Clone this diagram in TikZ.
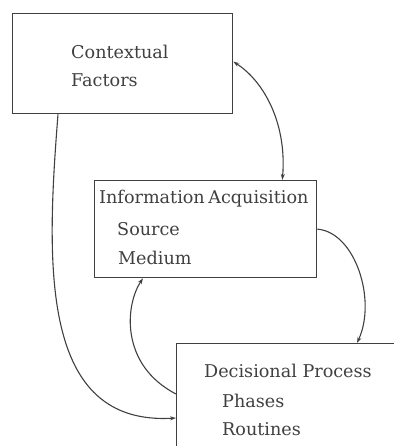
\documentclass[tikz,border=0pt]{standalone}
\usepackage{fontspec}
\setmainfont{DejaVu Serif}
\usetikzlibrary{arrows.meta}
\begin{document}
\begin{tikzpicture}[x=1pt,y=1pt,
  box/.style={draw=black!75, line width=1.3pt, anchor=north west, inner sep=0pt},
  lbl/.style={anchor=base west, inner sep=0pt, text=black!75, font=\fontsize{17.6}{20}\selectfont},
  conn/.style={draw=black!75, line width=1.1pt},
  tip/.style={-{Stealth[length=6pt,width=4pt]}},
  tips/.style={{Stealth[length=6pt,width=4pt]}-{Stealth[length=6pt,width=4pt]}}]
\useasboundingbox (0,0) rectangle (393,446);
\fill[white] (0,0) rectangle (393,446);
\node[box, minimum width=220pt, minimum height=100pt] (box1) at (12,433) {};
\node[box, minimum width=222pt, minimum height=97pt] (box2) at (94,266) {};
\node[box, minimum width=240pt, minimum height=120pt] (box3) at (176,103) {};
\node[lbl] (t1) at (71,387) {Contextual};
\node[lbl] (t2) at (71,359) {Factors};
\node[lbl] (t3) at (99,242) {Information\hspace{-2pt} Acquisition};
\node[lbl] (t4) at (117,210) {Source};
\node[lbl] (t5) at (118,181) {Medium};
\node[lbl] (t6) at (204,68) {Decisional Process};
\node[lbl] (t7) at (222,38) {Phases};
\node[lbl] (t8) at (222,10) {Routines};
% connectors
\draw[conn,tips] ([yshift=2pt]box1.east) .. controls (265,364) and (287,321) .. ([xshift=-35pt]box2.north east);
\draw[conn,tip] (box2.east) .. controls (355,214) and (377,146) .. ([xshift=181pt]box3.north west);
\draw[conn,tip] ([yshift=-51pt]box3.north west) .. controls (120,81) and (125,141) .. ([xshift=49pt]box2.south west);
\draw[conn,tip] ([xshift=46pt]box1.south west) .. controls (46,180) and (40,20) .. ([yshift=-75pt]box3.north west);
\end{tikzpicture}
\end{document}
